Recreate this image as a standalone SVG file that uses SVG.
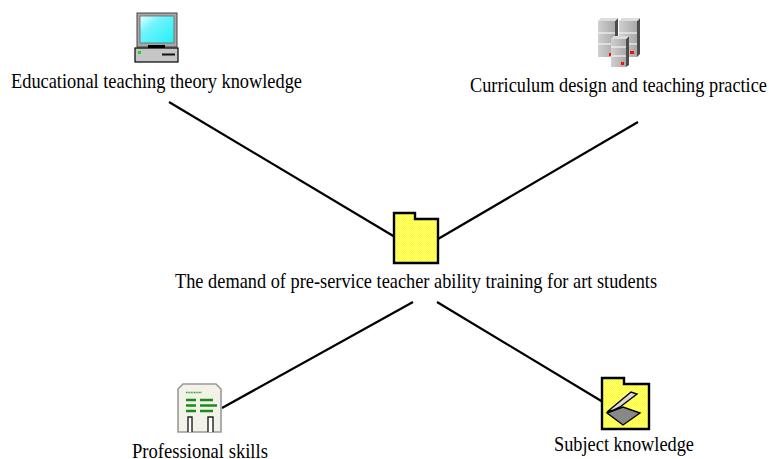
<svg xmlns="http://www.w3.org/2000/svg" width="769" height="459" viewBox="0 0 769 459">
<style>
text{font-family:"Liberation Serif","Times New Roman",serif;font-size:21.5px;fill:#000}
.c{fill:none;stroke:#000;stroke-width:2.2}
.f{fill:url(#dots);stroke:#000;stroke-width:2.4}
.srv{fill:url(#metal)}.top{fill:#dcdcdc}.sd{fill:#4c4c4c}.sep{stroke:#f4f4f4;stroke-width:1.2}.red{fill:#f01010}
.g{stroke:#1a8a1a;stroke-width:2.3}
</style>
<defs>
<linearGradient id="scr" x1="0" y1="0" x2="1" y2="1"><stop offset="0" stop-color="#e8ffff"/><stop offset=".35" stop-color="#70f4fa"/><stop offset="1" stop-color="#20f0f8"/></linearGradient>
<linearGradient id="metal" x1="0" y1="0" x2="1" y2="0"><stop offset="0" stop-color="#d0d0d0"/><stop offset="1" stop-color="#a8a8a8"/></linearGradient>
<pattern id="dots" width="2" height="2" patternUnits="userSpaceOnUse"><rect width="2" height="2" fill="#ffff20"/><rect width="1" height="1" fill="#ffff90"/><rect x="1" y="1" width="1" height="1" fill="#ffff90"/></pattern>
</defs>
<g id="connectors">
<line class="c" x1="169" y1="102" x2="395" y2="237"/>
<line class="c" x1="638" y1="122" x2="438" y2="239"/>
<line class="c" x1="413" y1="302" x2="222" y2="408"/>
<line class="c" x1="437" y1="302" x2="603" y2="402"/>
</g>
<g id="node-theory">
<rect x="137" y="13" width="40" height="34" fill="#a8a8a8" stroke="#444" stroke-width="1"/>
<rect x="140" y="16" width="34" height="27" fill="url(#scr)" stroke="#666" stroke-width=".8"/>
<rect x="148" y="45" width="17" height="4" fill="#000"/>
<rect x="135" y="48" width="43" height="14" fill="#c6c6c6" stroke="#000" stroke-width="1.2"/>
<rect x="138" y="51" width="3" height="3" fill="#10e010"/>
<rect x="162" y="53.500" width="13" height="2" fill="#111"/>
<text transform="translate(11 88) scale(.86 1)" textLength="338.400" lengthAdjust="spacingAndGlyphs">Educational teaching theory knowledge</text>
</g>
<g id="node-curriculum">
<path class="sd" d="M615 21l3-3v36l-3 3zM637 21l3-3v36l-3 3z"/>
<path class="top" d="M598 21l3-3h17l-3 3zM619 21l3-3h18l-3 3z"/>
<rect class="srv" x="598" y="21" width="17" height="36"/>
<rect class="srv" x="619" y="21" width="18" height="36"/>
<line class="sep" x1="598" y1="33" x2="615" y2="33"/><line class="sep" x1="598" y1="44" x2="615" y2="44"/>
<line class="sep" x1="619" y1="33" x2="637" y2="33"/><line class="sep" x1="619" y1="44" x2="637" y2="44"/>
<rect class="red" x="609" y="53" width="3" height="3"/>
<rect class="red" x="630" y="51" width="4" height="3"/>
<path class="sd" d="M626 39l3-3v29l-3 2z"/>
<path class="top" d="M611 39l3-3h15l-3 3z"/>
<rect class="srv" x="611" y="39" width="15" height="28"/>
<line class="sep" x1="611" y1="47" x2="626" y2="47"/><line class="sep" x1="611" y1="56" x2="626" y2="56"/>
<rect class="red" x="621" y="62" width="3" height="3"/>
<text transform="translate(470 92) scale(.86 1)" textLength="345.300" lengthAdjust="spacingAndGlyphs">Curriculum design and teaching practice</text>
</g>
<g id="node-demand">
<path class="f" d="M394 213h21v6h23v44h-44z"/>
<text transform="translate(175 288) scale(.86 1)" textLength="560.500" lengthAdjust="spacingAndGlyphs">The demand of pre-service teacher ability training for art students</text>
</g>
<g id="node-skills">
<path d="M178 389l5-5h33l5 5v43h-43z" fill="#f2f2e8" stroke="#999" stroke-width="1.6"/>
<line x1="186" y1="392.500" x2="202" y2="392.500" stroke="#2a9a2a" stroke-width="1.500" stroke-dasharray="1 .6"/>
<path class="g" d="M186 400h10M200 400h13M186 405.500h10M200 405.500h17M186 411h10M200 411h13"/>
<path d="M188 432v-15h4v15M208 432v-15h5v15" fill="#fff" stroke="#222" stroke-width="1.400"/>
<text transform="translate(132 458) scale(.86 1)" textLength="158.100" lengthAdjust="spacingAndGlyphs">Professional skills</text>
</g>
<g id="node-subject">
<path class="f" d="M602 378h22v6h25v45h-47z"/>
<path d="M607 412l24-20 6 2-17 13-6 3z" fill="#d8d8d8" stroke="#000" stroke-width="1.400"/>
<path d="M607 413l16-6 17 6-17 12z" fill="#888" stroke="#000" stroke-width="1.400"/>
<text transform="translate(554 451) scale(.86 1)" textLength="162.800" lengthAdjust="spacingAndGlyphs">Subject knowledge</text>
</g>
</svg>
